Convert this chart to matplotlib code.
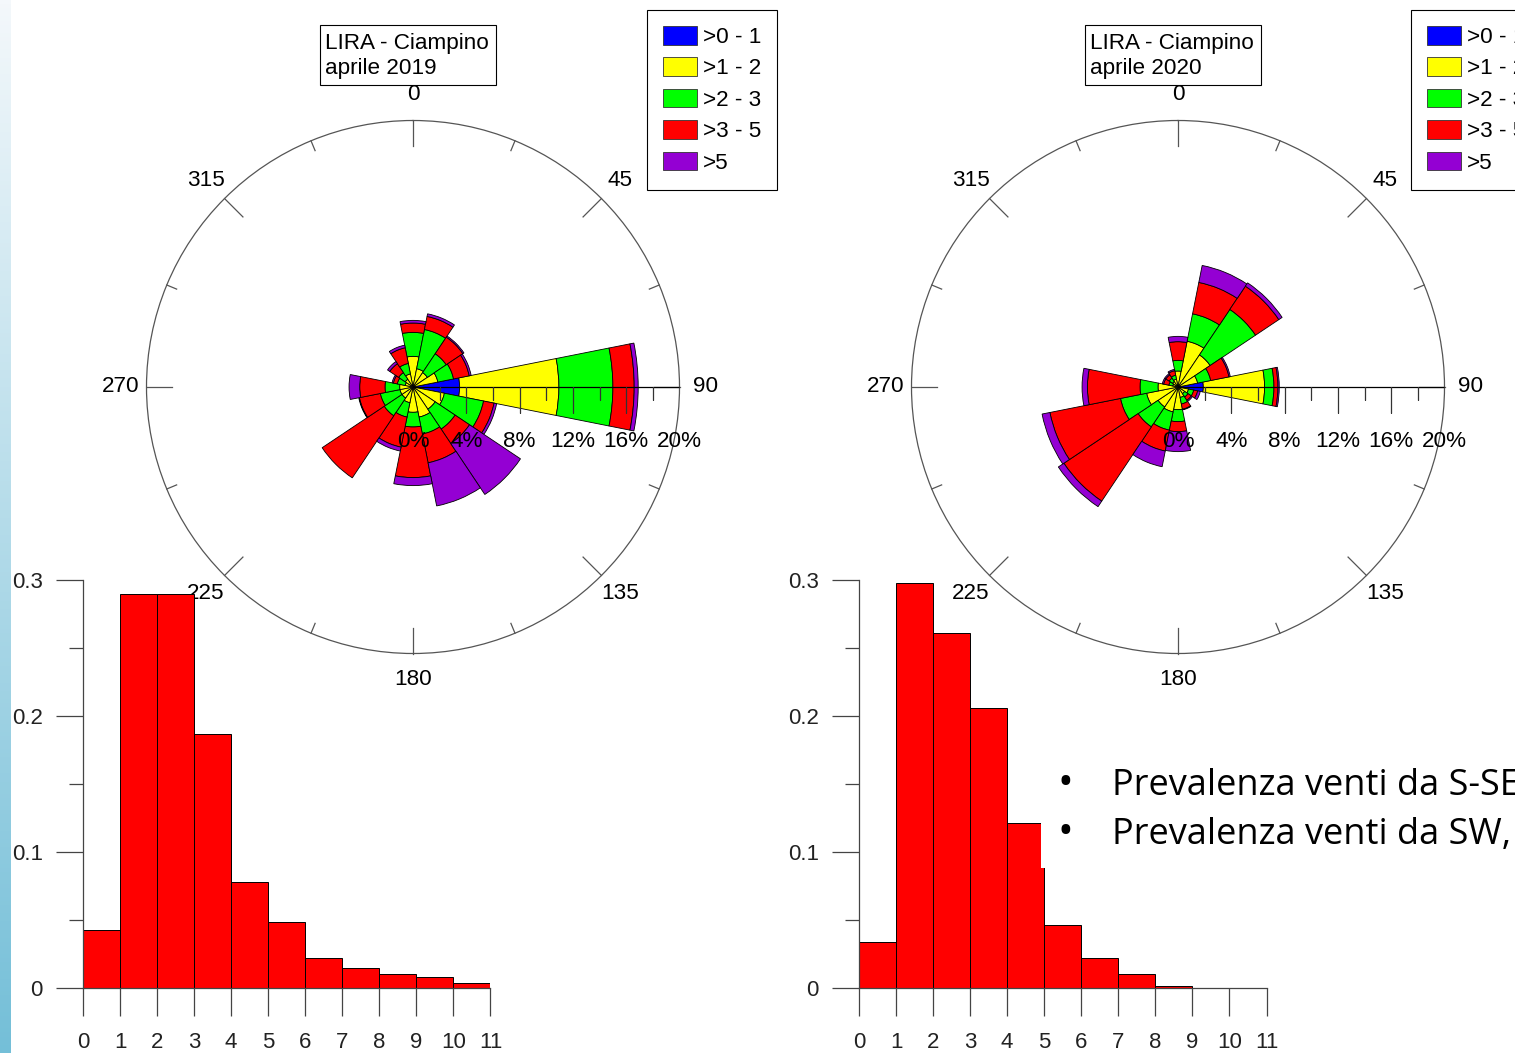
import numpy as np
import matplotlib.pyplot as plt
from matplotlib.colors import LinearSegmentedColormap
from matplotlib.patches import Patch, Rectangle

plt.rcParams["font.family"] = ["Liberation Sans", "DejaVu Sans"]

W, H = 1515, 1053

# wind rose: frequency (%) per 22.5 deg sector, one list per speed class
directions = np.arange(0, 360, 22.5)
speed_labels = [">0 - 1", ">1 - 2", ">2 - 3", ">3 - 5", ">5"]
speed_colors = ["#0000FF", "#FFFF00", "#00FF00", "#FF0000", "#9400D3"]
compass_labels = [0, 45, 90, 135, 180, 225, 270, 315]
pct_labels = [0, 4, 8, 12, 16, 20]

#            N    NNE  NE   ENE  E     ESE  SE   SSE  S    SSW  SW   WSW  W    WNW  NW   NNW
blue_2019 = [0, 0, 0, 0, 3.5, 0, 0, 0, 0, 0, 0, 0, 0, 0, 0, 0]
yellow_2019 = [2.3, 1.4, 1.3, 1.9, 7.45, 2.4, 2.0, 2.3, 1.9, 1.2, 1.0, 1.0, 1.0, 0.6, 0.7, 1.0]
green_2019 = [1.8, 3.0, 1.7, 1.2, 4.05, 3.0, 1.8, 1.3, 1.1, 1.1, 1.6, 1.5, 1.1, 0.6, 0.6, 0.8]
red_2019 = [0.7, 1.0, 1.5, 1.2, 1.6, 0.8, 1.3, 2.2, 3.8, 2.3, 5.6, 1.6, 1.9, 0.3, 0.8, 1.2]
purple_2019 = [0.2, 0.2, 0.1, 0.15, 0.3, 0.2, 4.6, 3.3, 0.6, 0.3, 0.0, 0.05, 0.8, 0.1, 0.2, 0.2]

blue_2020 = [0, 0, 0, 0, 1.9, 0, 0, 0, 0, 0, 0, 0, 0, 0, 0, 0]
yellow_2020 = [1.2, 3.5, 2.9, 1.5, 4.6, 0.8, 0.6, 0.8, 1.7, 1.9, 1.8, 2.4, 1.5, 0.4, 0.5, 0.6]
green_2020 = [0.8, 2.1, 4.1, 1.0, 0.7, 0.4, 0.3, 0.5, 0.9, 1.4, 1.8, 2.0, 1.35, 0.3, 0.3, 0.3]
red_2020 = [1.4, 2.4, 2.1, 1.4, 0.3, 0.3, 0.3, 0.4, 0.75, 1.6, 6.7, 5.4, 3.95, 0.4, 0.3, 0.35]
purple_2020 = [0.4, 1.3, 0.3, 0.1, 0.1, 0.2, 0.1, 0.05, 1.5, 1.2, 0.5, 0.6, 0.4, 0.1, 0.1, 0.1]

# wind speed histogram (density per 1 m/s bin)
speed_edges = np.arange(0, 12)
hist_2019 = [0.043, 0.290, 0.290, 0.187, 0.078, 0.0485, 0.022, 0.015, 0.0105, 0.008, 0.0035]
hist_2020 = [0.034, 0.298, 0.261, 0.206, 0.121, 0.046, 0.022, 0.010, 0.0017, 0.0, 0.0]

bullets = ["Prevalenza venti da S-SE", "Prevalenza venti da SW,"]

FS = 16.2


def fx(x):
    return x / W


def fy(y):
    return 1 - y / H


def draw_rose(fig, cx, classes, title, legend_x):
    rad = 266.5
    ax = fig.add_axes([fx(cx - rad), fy(387 + rad), 2 * rad / W, 2 * rad / H],
                      projection="polar")
    ax.set_zorder(0)
    ax.set_theta_zero_location("N")
    ax.set_theta_direction(-1)
    ax.set_ylim(0, 20)
    ax.grid(False)
    ax.set_xticks([])
    ax.set_yticks([])
    ax.spines["polar"].set_color("#555555")
    ax.spines["polar"].set_linewidth(0.9)

    theta = np.deg2rad(directions)
    bottom = np.zeros(len(directions))
    for vals, col in zip(classes, speed_colors):
        vals = np.asarray(vals, dtype=float)
        m = vals > 0
        ax.bar(theta[m], vals[m], width=np.deg2rad(22.5), bottom=bottom[m],
               color=col, edgecolor="black", linewidth=0.6)
        bottom = bottom + vals

    for d in directions:
        r0 = 18.05 if d % 45 == 0 else 19.2
        ax.plot([np.deg2rad(d)] * 2, [r0, 20], color="#555555", lw=0.9, clip_on=False)
    ax.plot([np.pi / 2] * 2, [0, 20], color="black", lw=0.9, zorder=4)
    for v in range(2, 20, 2):
        ax.plot(np.pi / 2, v, ls="", marker=3, ms=18.7 if v % 4 == 0 else 9.4,
                mew=0.9, color="#333333", zorder=4)

    for d in compass_labels:
        ax.text(np.deg2rad(d), 21.95, str(d), ha="center", va="center",
                fontsize=FS, clip_on=False)
    for v in pct_labels:
        ax.annotate(f"{v}%", xy=(np.pi / 2, v), xytext=(0, -39),
                    textcoords="offset points", ha="center", va="center",
                    fontsize=FS, zorder=5, annotation_clip=False)

    # title box
    bx = cx - 93
    fig.add_artist(Rectangle((fx(bx), fy(85)), 176 / W, 60 / H, transform=fig.transFigure,
                             facecolor="white", edgecolor="black", lw=0.8, zorder=6))
    for yy, line in zip([43.5, 68.5], title.split("\n")):
        fig.text(fx(bx + 5), fy(yy), line, ha="left", va="center", fontsize=FS, zorder=7)

    handles = [Patch(facecolor=c, edgecolor="#333333", linewidth=0.6) for c in speed_colors]
    leg = fig.legend(handles, speed_labels, loc="upper left",
                     bbox_to_anchor=(fx(legend_x), fy(10)), bbox_transform=fig.transFigure,
                     borderaxespad=0, fancybox=False, edgecolor="black", framealpha=1,
                     fontsize=FS, handlelength=1.5, handleheight=0.89,
                     handletextpad=0.28, labelspacing=0.42, borderpad=0.71)
    leg.get_frame().set_linewidth(0.8)
    return ax


def draw_hist(fig, x0, vals):
    ax = fig.add_axes([fx(x0), fy(988), 407.5 / W, 408 / H])
    ax.set_zorder(1)
    ax.patch.set_visible(False)
    ax.bar(speed_edges[:-1], vals, width=1, align="edge", color="#FF0000",
           edgecolor="black", linewidth=0.7)
    ax.set_xlim(0, 11)
    ax.set_ylim(0, 0.3)
    for s in ("top", "right"):
        ax.spines[s].set_visible(False)
    for s in ("left", "bottom"):
        ax.spines[s].set_color("#444444")
        ax.spines[s].set_linewidth(0.9)
    ax.set_xticks(speed_edges)
    ax.set_yticks([0, 0.1, 0.2, 0.3], ["0", "0.1", "0.2", "0.3"])
    ax.set_yticks([0.05, 0.15, 0.25], minor=True)
    ax.tick_params(axis="y", which="major", length=19.5, width=0.9, pad=9.5,
                   labelsize=16, color="#444444", labelcolor="#222222")
    ax.tick_params(axis="y", which="minor", length=10, width=0.9, color="#444444")
    ax.tick_params(axis="x", length=20, width=0.9, pad=12, labelsize=16,
                   color="#444444", labelcolor="#222222")
    return ax


fig = plt.figure(figsize=(W / 100, H / 100), dpi=100)

# slide side strip
strip = fig.add_axes([0, 0, 11 / W, 1])
strip.imshow(np.linspace(0, 1, 256)[:, None], aspect="auto",
             cmap=LinearSegmentedColormap.from_list("strip", ["#f4f8fb", "#74bfd8"]))
strip.axis("off")

draw_rose(fig, 413, [blue_2019, yellow_2019, green_2019, red_2019, purple_2019],
          "LIRA - Ciampino\naprile 2019", 647)
draw_rose(fig, 1178, [blue_2020, yellow_2020, green_2020, red_2020, purple_2020],
          "LIRA - Ciampino\naprile 2020", 1411)
draw_hist(fig, 83, hist_2019)
draw_hist(fig, 859, hist_2020)

# slide text box
fig.add_artist(Rectangle((fx(1041), fy(868)), (W - 1041) / W, 125 / H,
                         transform=fig.transFigure, facecolor="white",
                         edgecolor="none", zorder=10))
for yb, t in zip([795, 844], bullets):
    fig.text(fx(1065), fy(yb), "\u2022", ha="center", va="baseline", fontsize=30,
             family="Open Sans", zorder=11)
    fig.text(fx(1112), fy(yb), t, ha="left", va="baseline", fontsize=26,
             family="Open Sans", zorder=11)

fig.savefig("out.png", dpi=100)
